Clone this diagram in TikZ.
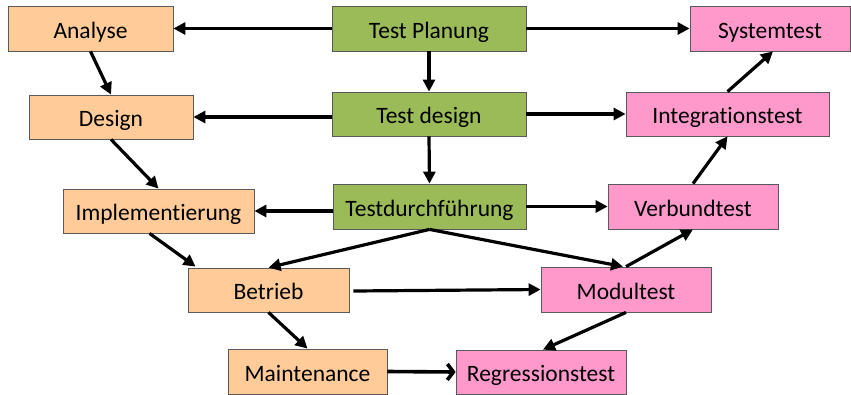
\documentclass[tikz,border=0pt]{standalone}
\usepackage{fontspec}
\setmainfont{Carlito}[RawFeature=-liga]
\usetikzlibrary{arrows.meta,calc}
\definecolor{orangebox}{HTML}{FFCC99}
\definecolor{greenbox}{HTML}{9BBB59}
\definecolor{pinkbox}{HTML}{FF99CC}
\definecolor{boxline}{HTML}{595959}
\begin{document}
\begin{tikzpicture}[x=1pt,y=-1pt,
  box/.style={draw=boxline,line width=0.8pt,inner sep=0pt,text height=21pt,text depth=2pt,font=\fontsize{23.5}{26}\selectfont,text=black},
  obox/.style={box,fill=orangebox},
  gbox/.style={box,fill=greenbox},
  pbox/.style={box,fill=pinkbox},
  arr/.style={line width=3.2pt,-{Triangle[length=12pt,width=12pt]}},
  openarr/.style={line width=3.6pt,-{Straight Barb[length=6pt,width=16pt]}}
]
\useasboundingbox (0,0) rectangle (851,394);
% left column
\node[obox,minimum width=165pt,minimum height=45pt] (analyse) at (90.5,28.5) {Analyse};
\node[obox,minimum width=164pt,minimum height=44pt] (design) at (111,117) {Design};
\node[obox,minimum width=191pt,minimum height=44pt] (impl) at (158.5,211) {Implementierung};
\node[obox,minimum width=161pt,minimum height=44pt] (betrieb) at (268.5,290) {Betrieb};
\node[obox,minimum width=159pt,minimum height=45pt] (maint) at (307.5,371.5) {Maintenance};
% middle column
\node[gbox,minimum width=194pt,minimum height=45pt] (tplan) at (429,28.5) {Test Planung};
\node[gbox,minimum width=194pt,minimum height=44pt] (tdesign) at (429,114) {Test design};
\node[gbox,minimum width=193pt,minimum height=45pt] (tdurch) at (429.5,206.5) {Testdurchführung};
% right column
\node[pbox,minimum width=160pt,minimum height=45pt] (system) at (770,28.5) {Systemtest};
\node[pbox,minimum width=203pt,minimum height=44pt] (integ) at (727.5,114) {Integrationstest};
\node[pbox,minimum width=170pt,minimum height=45pt] (verbund) at (693,206.5) {Verbundtest};
\node[pbox,minimum width=170pt,minimum height=45pt] (modul) at (626,289.5) {Modultest};
\node[pbox,minimum width=170pt,minimum height=44pt] (regress) at (541,372) {Regressionstest};
% horizontal connectors
\draw[arr] (tplan.west) -- (analyse.east);
\draw[arr] (tplan.east) -- (system.west);
\draw[arr] (tdesign.west |- design.east) -- (design.east);
\draw[arr] (tdesign.east) -- (integ.west);
\draw[arr] (tdurch.west |- impl.east) -- (impl.east);
\draw[arr] (tdurch.east) -- (verbund.west);
\draw[arr] ($(betrieb.east)+(4,1)$) -- (modul.west);
\draw[openarr] (maint.east) -- (regress.west);
% vertical middle
\draw[arr] (tplan.south) -- (tdesign.north);
\draw[arr] (tdesign.south) -- (tdurch.north);
% left descent
\draw[arr] (analyse.south) -- (design.north);
\draw[arr] (design.south) -- (impl.north);
\draw[arr] ($(impl.south)+(-9,0)$) -- ($(betrieb.north west)+(8,-1)$);
\draw[arr] (betrieb.south) -- (maint.north);
% from Testdurchfuehrung
\draw[arr] (tdurch.south) -- (betrieb.north);
\draw[arr] (tdurch.south) -- ($(modul.north)+(-3,0)$);
% right ascent
\draw[arr] (modul.south) -- ($(regress.north)+(2,0)$);
\draw[arr] (modul.north) -- (verbund.south);
\draw[arr] (verbund.north) -- (integ.south);
\draw[arr] (integ.north) -- ($(system.south)+(3,0)$);
\end{tikzpicture}
\end{document}
